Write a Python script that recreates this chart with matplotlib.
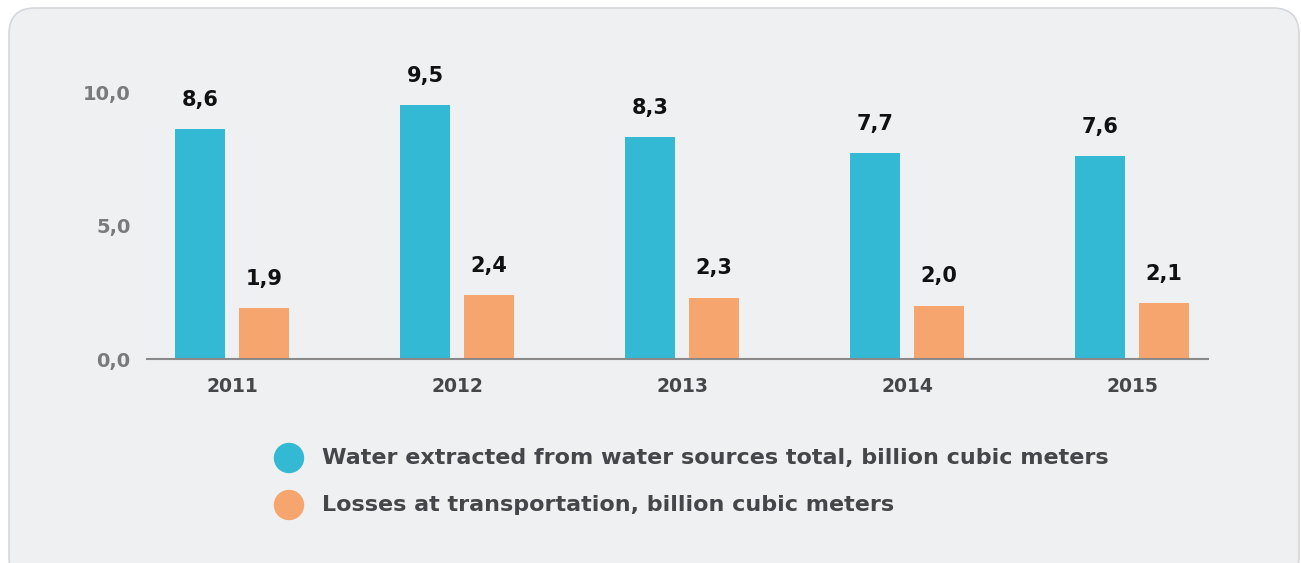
import matplotlib.pyplot as plt
from matplotlib.patches import FancyBboxPatch, Ellipse
import numpy as np

plt.rcParams['font.family'] = ['DejaVu Sans']

years = ['2011', '2012', '2013', '2014', '2015']
extracted = [8.6, 9.5, 8.3, 7.7, 7.6]
losses = [1.9, 2.4, 2.3, 2.0, 2.1]
legend_labels = ['Water extracted from water sources total, billion cubic meters',
                 'Losses at transportation, billion cubic meters']
yticks = [0, 5, 10]

blue = '#33b9d3'
orange = '#f5a56d'

W, H = 1301, 563
fig = plt.figure(figsize=(W / 100, H / 100), dpi=100)
fig.patch.set_facecolor('white')

# rounded panel behind everything
panel = FancyBboxPatch((9 / W, -20 / H), 1290 / W, (H - 8 + 20) / H,
                       boxstyle='round,pad=0,rounding_size=0.02',
                       transform=fig.transFigure, facecolor='#eff0f2',
                       edgecolor='#d4d7db', linewidth=1.2, zorder=0,
                       mutation_aspect=W / H)
fig.add_artist(panel)

ax = fig.add_axes([147 / W, 1 - 359 / H, (1208 - 147) / W, (359 - 92) / H])
ax.set_facecolor('none')

x = np.arange(len(years))
bw = 50 / 225
off = 32 / 225
b1 = ax.bar(x - off, extracted, bw, color=blue, zorder=2)
b2 = ax.bar(x + off, losses, bw, color=orange, zorder=2)

for bars, vals in ((b1, extracted), (b2, losses)):
    for rect, v in zip(bars, vals):
        ax.annotate(f'{v:.1f}'.replace('.', ','),
                    (rect.get_x() + rect.get_width() / 2, v),
                    xytext=(0, 21), textcoords='offset points',
                    ha='center', va='center', fontsize=15, fontweight='bold',
                    color='#111111', clip_on=False)

ax.set_xlim(-85 / 225, 4 + 76 / 225)
ax.set_ylim(0, 10)
ax.set_xticks(x + 0.0)
ax.set_xticklabels(years, fontsize=13.5, fontweight='bold', color='#444649')
ax.set_yticks(yticks)
ax.set_yticklabels([f'{t:.1f}'.replace('.', ',') for t in yticks],
                   fontsize=14, fontweight='bold', color='#7a7a7a')
ax.tick_params(axis='both', length=0)
ax.tick_params(axis='x', pad=13)
ax.tick_params(axis='y', pad=12)
for s in ('top', 'right', 'left'):
    ax.spines[s].set_visible(False)
ax.spines['bottom'].set_color('#8a8a8a')
ax.spines['bottom'].set_linewidth(1.5)

# legend
for i, (lab, col) in enumerate(zip(legend_labels, (blue, orange))):
    yc = 1 - (458 + 47 * i) / H
    fig.add_artist(Ellipse((289 / W, yc), 29 / W, 29 / H,
                           transform=fig.transFigure, color=col, zorder=3))
    fig.text(322 / W, yc, lab, fontsize=16, fontweight='bold',
             color='#444649', va='center', ha='left')

fig.savefig('out.png', dpi=100, facecolor='white')
